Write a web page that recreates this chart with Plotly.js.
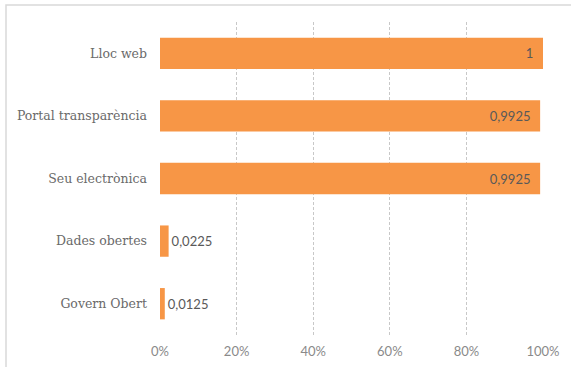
<!DOCTYPE html>
<html>
<head>
<meta charset="utf-8">
<script src="https://cdn.plot.ly/plotly-3.0.1.min.js"></script>
<style>
html,body{margin:0;padding:0;background:#fff;}
#chart{width:571px;height:367px;}
</style>
</head>
<body>
<div id="chart"></div>
<script>
const categories = ["Lloc web", "Portal transparència", "Seu electrònica", "Dades obertes", "Govern Obert"];
const values = [1, 0.9925, 0.9925, 0.0225, 0.0125];
const tickVals = [0, 0.2, 0.4, 0.6, 0.8, 1];
const tickLabels = ["0%", "20%", "40%", "60%", "80%", "100%"];

const positions = values.map(v => v > 0.5 ? 'inside' : 'outside');
const labels = values.map((v, i) => String(v).replace('.', ',') + (positions[i] === 'inside' ? '\u00a0\u00a0' : ''));

const trace = {
  type: 'bar',
  orientation: 'h',
  y: categories,
  x: values,
  text: labels,
  textposition: positions,
  insidetextanchor: 'end',
  textfont: {family: 'Lato, sans-serif', size: 13, color: '#595959'},
  insidetextfont: {family: 'Lato, sans-serif', size: 13, color: '#595959'},
  outsidetextfont: {family: 'Lato, sans-serif', size: 13, color: '#595959'},
  marker: {color: '#F79646'},
  cliponaxis: false,
  hoverinfo: 'none'
};

const layout = {
  width: 571, height: 367,
  margin: {l: 160, r: 28, t: 22, b: 32},
  paper_bgcolor: 'rgba(0,0,0,0)',
  plot_bgcolor: 'rgba(0,0,0,0)',
  bargap: 0.5,
  showlegend: false,
  xaxis: {
    range: [0, 1],
    tickvals: tickVals,
    ticktext: tickLabels,
    showgrid: true,
    gridcolor: '#c8c8c8',
    griddash: '3px,2px',
    gridwidth: 1,
    zeroline: false,
    showline: false,
    ticks: '',
    ticklabelstandoff: 7,
    tickfont: {family: 'Lato, sans-serif', size: 13, color: '#8a8a8a'},
    fixedrange: true
  },
  yaxis: {
    autorange: 'reversed',
    showgrid: false,
    zeroline: false,
    showline: false,
    ticks: '',
    ticklabelstandoff: 12,
    tickfont: {family: '"DejaVu Serif", serif', size: 12.5, color: '#6a6a6a'},
    fixedrange: true
  },
  shapes: [{
    type: 'rect', xref: 'paper', yref: 'paper',
    x0: (6 - 160) / 383, x1: (580 - 160) / 383,
    y0: (335 - 380) / 313, y1: (335 - 5) / 313,
    line: {color: '#d9d9d9', width: 1.5},
    fillcolor: 'rgba(0,0,0,0)',
    layer: 'below'
  }]
};

Plotly.newPlot('chart', [trace], layout, {displayModeBar: false, staticPlot: true});
</script>
</body>
</html>
